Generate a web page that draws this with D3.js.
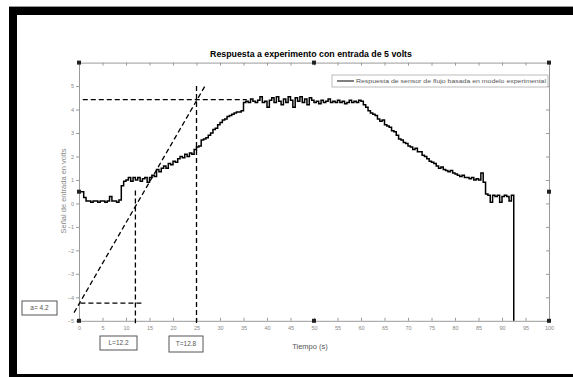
<!DOCTYPE html>
<html>
<head>
<meta charset="utf-8">
<script src="https://cdn.jsdelivr.net/npm/d3@7"></script>
<style>
  body { margin: 0; background: #fff; }
  svg { display: block; font-family: "Liberation Sans", Arial, sans-serif; }
</style>
</head>
<body>
<svg id="chart" width="573" height="377"></svg>
<script>
// sensor response, one sample every half second from t = 0
var sampleStep = 0.5;
var sensorVolts = [
    0.5, 0.5, 0.25, 0.1, 0.1, 0.05, 0.1, 0.1, 0.05, 0.1,
    0.1, 0.05, 0.1, 0.3, 0.1, 0.1, 0.05, 0.15, 0.75, 0.95,
    1.0, 1.1, 0.95, 1.1, 1.0, 1.1, 0.95, 1.05, 1.1, 0.9,
    1.1, 1.2, 1.15, 1.45, 1.35, 1.5, 1.6, 1.5, 1.7, 1.65,
    1.8, 1.75, 1.9, 2.0, 1.95, 2.1, 2.0, 2.15, 2.1, 2.3,
    2.4, 2.45, 2.7, 2.75, 2.8, 2.9, 3.0, 3.15, 3.2, 3.35,
    3.45, 3.55, 3.6, 3.7, 3.75, 3.8, 3.85, 3.9, 3.9, 3.95,
    4.3, 4.35, 4.3, 4.45, 4.35, 4.3, 4.4, 4.55, 4.3, 4.35,
    4.1, 4.4, 4.5, 4.3, 4.55, 4.35, 4.2, 4.45, 4.3, 4.55,
    4.4, 4.1, 4.5, 4.35, 4.55, 4.3, 4.45, 4.2, 4.5, 4.4,
    4.3, 4.35, 4.25, 4.4, 4.3, 4.35, 4.45, 4.3, 4.35, 4.3,
    4.4, 4.3, 4.35, 4.25, 4.3, 4.4, 4.3, 4.35, 4.3, 4.4,
    4.35, 4.2, 4.1, 3.95, 3.85, 3.8, 3.75, 3.6, 3.5, 3.55,
    3.35, 3.3, 3.25, 3.1, 3.05, 2.9, 2.75, 2.7, 2.6, 2.55,
    2.45, 2.4, 2.3, 2.35, 2.2, 2.2, 2.05, 2.0, 1.9, 1.8,
    1.75, 1.7, 1.6, 1.5, 1.55, 1.45, 1.4, 1.35, 1.4, 1.3,
    1.25, 1.2, 1.15, 1.2, 1.1, 1.1, 1.05, 1.1, 1.0, 1.05,
    1.0, 1.3, 0.9, 0.4, 0.35, 0.05, 0.35, 0.3, 0.35, 0.05,
    0.3, 0.35, 0.3, 0.1, 0.35, -5
];

var xTicks = d3.range(0, 101, 5);
var yTicks = [-5, -4, -3, -2, -1, 0, 1, 2, 3, 4, 5];

// construction lines of the first order + dead time fit
var gainA = 4.2;
var deadTimeL = 12.2;
var timeConstT = 12.8;
var plateauLevel = 4.42;
var tangentEnds = [[-1.05, -4.65], [26.8, 5.0]];

var titleText = "Respuesta a experimento con entrada de 5 volts";
var legendText = "Respuesta de sensor de flujo basada en modelo experimental";

var svg = d3.select("#chart");

/* frame around the screenshot */
svg.append("rect").attr("x", 9).attr("y", 6).attr("width", 564).attr("height", 1).attr("fill", "#999");
svg.append("rect").attr("x", 9).attr("y", 7).attr("width", 564).attr("height", 8).attr("fill", "#000");
svg.append("rect").attr("x", 9).attr("y", 7).attr("width", 8).attr("height", 370).attr("fill", "#000");
svg.append("rect").attr("x", 9).attr("y", 374).attr("width", 564).attr("height", 3).attr("fill", "#000");

var x = d3.scaleLinear().domain([0, 100]).range([79, 549]);
var y = d3.scaleLinear().domain([-5, 6]).range([320.8, 62.6]);

var axisColor = "#9a9a9a";
var labelColor = "#888";

function styleAxis(g) {
    g.select(".domain").attr("stroke", axisColor);
    g.selectAll(".tick line").attr("stroke", axisColor);
    g.selectAll(".tick text").attr("fill", labelColor).attr("font-size", 5.5);
}

svg.append("g")
    .attr("transform", "translate(0," + y(-5) + ")")
    .call(d3.axisBottom(x).tickValues(xTicks).tickSizeInner(-3).tickSizeOuter(0).tickPadding(5))
    .call(styleAxis);

svg.append("g")
    .attr("transform", "translate(0," + y(6) + ")")
    .call(d3.axisTop(x).tickValues(xTicks.slice(1, -1)).tickSizeInner(-3).tickSizeOuter(0).tickFormat(""))
    .call(styleAxis);

svg.append("g")
    .attr("transform", "translate(" + x(0) + ",0)")
    .call(d3.axisLeft(y).tickValues(yTicks).tickSizeInner(3).tickSizeOuter(0).tickPadding(2))
    .call(styleAxis);

svg.append("g")
    .attr("transform", "translate(" + x(100) + ",0)")
    .call(d3.axisRight(y).tickValues(yTicks).tickSizeInner(-3).tickSizeOuter(0).tickFormat(""))
    .call(styleAxis);

/* dashed construction lines */
var dash = "5,3";
function dashed(x1, y1, x2, y2) {
    svg.append("line")
        .attr("x1", x(x1)).attr("y1", y(y1))
        .attr("x2", x(x2)).attr("y2", y(y2))
        .attr("stroke", "#000").attr("stroke-width", 1.3)
        .attr("stroke-dasharray", dash);
}
dashed(0.8, plateauLevel, 35.7, plateauLevel);
dashed(0.3, -gainA - 0.05, 13.7, -gainA - 0.05);
dashed(deadTimeL - 0.2, 0.55, deadTimeL - 0.2, -5.1);
dashed(deadTimeL + timeConstT, 5.0, deadTimeL + timeConstT, -5.1);
dashed(tangentEnds[0][0], tangentEnds[0][1], tangentEnds[1][0], tangentEnds[1][1]);

/* measured response */
var line = d3.line()
    .x(function (d, i) { return x(i * sampleStep); })
    .y(function (d) { return y(d); })
    .curve(d3.curveStepAfter);

svg.append("path")
    .datum(sensorVolts)
    .attr("d", line)
    .attr("fill", "none")
    .attr("stroke", "#000")
    .attr("stroke-width", 1.5);

/* selection handles of the axes */
var handles = [[0, 6], [50, 6], [100, 6], [0, 0.5], [100, 0.5], [0, -5], [50, -5], [100, -5]];
svg.selectAll(".handle").data(handles).enter().append("rect")
    .attr("class", "handle")
    .attr("x", function (d) { return x(d[0]) - 2; })
    .attr("y", function (d) { return y(d[1]) - 2; })
    .attr("width", 4).attr("height", 4)
    .attr("fill", "#222");

/* title and axis labels */
svg.append("text")
    .attr("x", 311).attr("y", 57)
    .attr("text-anchor", "middle")
    .attr("font-size", 8.8).attr("font-weight", "bold")
    .text(titleText);

svg.append("text")
    .attr("x", 310).attr("y", 349)
    .attr("text-anchor", "middle")
    .attr("font-size", 7.5).attr("fill", "#555")
    .text("Tiempo (s)");

svg.append("text")
    .attr("transform", "translate(66,191) rotate(-90)")
    .attr("text-anchor", "middle")
    .attr("font-size", 7.5).attr("fill", labelColor)
    .text("Señal de entrada en volts");

/* legend */
var legend = svg.append("g");
legend.append("rect")
    .attr("x", 332).attr("y", 75).attr("width", 216).attr("height", 12)
    .attr("fill", "#fff").attr("stroke", "#aaa").attr("stroke-width", 0.8);
legend.append("line")
    .attr("x1", 337).attr("x2", 354).attr("y1", 81).attr("y2", 81)
    .attr("stroke", "#000").attr("stroke-width", 1);
legend.append("text")
    .attr("x", 356).attr("y", 83.2)
    .attr("font-size", 6.2).attr("fill", "#555")
    .attr("textLength", 190).attr("lengthAdjust", "spacingAndGlyphs")
    .text(legendText);

/* parameter boxes */
var boxes = [
    { label: "a= " + gainA, x: 22, y: 301, w: 35, h: 14 },
    { label: "L=" + deadTimeL, x: 100, y: 336, w: 37, h: 14 },
    { label: "T=" + timeConstT, x: 169, y: 336, w: 34, h: 16 }
];
boxes.forEach(function (b) {
    svg.append("rect")
        .attr("x", b.x).attr("y", b.y).attr("width", b.w).attr("height", b.h)
        .attr("fill", "#fff").attr("stroke", "#555").attr("stroke-width", 1);
    svg.append("text")
        .attr("x", b.x + b.w / 2).attr("y", b.y + b.h / 2 + 2)
        .attr("text-anchor", "middle")
        .attr("font-size", 6.5).attr("fill", "#555")
        .text(b.label);
});
</script>
</body>
</html>
